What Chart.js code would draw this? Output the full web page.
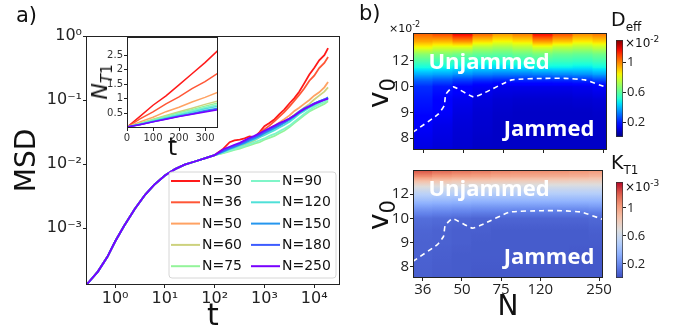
<!DOCTYPE html>
<html><head><meta charset="utf-8">
<script src="https://cdn.jsdelivr.net/npm/chart.js@4.4.1/dist/chart.umd.min.js"></script>
<style>
html,body{margin:0;padding:0;background:#fff;}
#fig{position:relative;width:678px;height:335px;overflow:hidden;background:#fff;}
#fig canvas{position:absolute;}
.t{position:absolute;white-space:nowrap;line-height:1;color:#111;font-family:'DejaVu Sans';}
.rot{transform:translate(-50%,-50%) rotate(-90deg);}
.zone{font-family:'Open Sans';font-weight:700;font-size:22px;color:#fff;transform:translateX(-50%);}
sub,sup{line-height:0;}
</style></head><body>
<div id="fig">
<canvas id="cMain" width="345" height="335" style="left:0;top:0"></canvas>
<canvas id="cInset" width="140" height="133" style="left:88px;top:30px"></canvas>
<canvas id="cHeatTop" width="267" height="160" style="left:345px;top:0"></canvas>
<canvas id="cHeatBot" width="267" height="175" style="left:345px;top:160px"></canvas>
<canvas id="cBarTop" width="68" height="160" style="left:610px;top:0"></canvas>
<canvas id="cBarBot" width="68" height="175" style="left:610px;top:160px"></canvas>

<div class="t" style="left:16px;top:5px;font-size:21px">a)</div>
<div class="t" style="left:359px;top:3px;font-size:21px">b)</div>
<div class="t rot" style="left:100px;top:82px;font-size:22px"><i>N</i><sub style="font-size:15px"><i>T</i>1</sub></div>
<div class="t" style="left:389px;top:23px;font-size:11px">×10<sup style="font-size:8px">-2</sup></div>
<div class="t rot" style="left:379px;top:93px;font-size:28px">v<sub style="font-size:21px">0</sub></div>
<div class="t rot" style="left:379px;top:215px;font-size:28px">v<sub style="font-size:21px">0</sub></div>
<div class="t zone" style="left:489px;top:49px">Unjammed</div>
<div class="t zone" style="left:549px;top:116px">Jammed</div>
<div class="t zone" style="left:489px;top:176px">Unjammed</div>
<div class="t zone" style="left:549px;top:244px">Jammed</div>
<div class="t" style="left:611px;top:10px;font-size:19px">D<sub style="font-size:12px">eff</sub></div>
<div class="t" style="left:625px;top:37px;font-size:12px">×10<sup style="font-size:9px">-2</sup></div>
<div class="t" style="left:611px;top:153px;font-size:19px">K<sub style="font-size:12px">T1</sub></div>
<div class="t" style="left:625px;top:181px;font-size:12px">×10<sup style="font-size:9px">-3</sup></div>
</div>
<script>
// ---------------- data ----------------
const seriesN = [30, 36, 50, 60, 75, 90, 120, 150, 180, 250];

// MSD vs t (shared short-time part)
const tEarly   = [0.26, 0.3, 0.45, 0.7, 1, 1.5, 2.5, 4, 6, 10, 16, 25, 40, 63, 100];
const msdEarly = [1.29e-4, 1.45e-4, 2.09e-4, 3.55e-4, 6.17e-4, 1.07e-3, 2.0e-3, 3.31e-3, 4.68e-3, 6.61e-3, 8.32e-3, 9.77e-3, 0.01096, 0.0123, 0.0138];
// long-time part, one array per N
const tLate = [150, 200, 250, 320, 400, 500, 630, 800, 1000, 1260, 1600, 2000, 2500, 3200, 4000, 5000, 6300, 8000, 10000, 12600, 16000, 19000];
const msdN30  = [0.0174, 0.0219, 0.0234, 0.0240, 0.0251, 0.0269, 0.0263, 0.0316, 0.0389, 0.0437, 0.0501, 0.0603, 0.0708, 0.0891, 0.107, 0.135, 0.182, 0.251, 0.316, 0.417, 0.501, 0.646];
const msdN36  = [0.0158, 0.0174, 0.0191, 0.0200, 0.0219, 0.0240, 0.0263, 0.0302, 0.0347, 0.0398, 0.0468, 0.0550, 0.0646, 0.0794, 0.0977, 0.120, 0.151, 0.200, 0.240, 0.316, 0.380, 0.468];
const msdN50  = [0.0155, 0.0170, 0.0182, 0.0195, 0.0209, 0.0229, 0.0251, 0.0282, 0.0324, 0.0363, 0.0398, 0.0447, 0.0501, 0.0575, 0.0676, 0.0759, 0.0871, 0.100, 0.117, 0.132, 0.158, 0.191];
const msdN60  = [0.0151, 0.0166, 0.0178, 0.0186, 0.0200, 0.0214, 0.0234, 0.0263, 0.0295, 0.0324, 0.0363, 0.0407, 0.0457, 0.0513, 0.0589, 0.0661, 0.0759, 0.0871, 0.102, 0.117, 0.135, 0.158];
const msdN75  = [0.0148, 0.0158, 0.0166, 0.0174, 0.0186, 0.0195, 0.0209, 0.0219, 0.0240, 0.0257, 0.0275, 0.0302, 0.0331, 0.0380, 0.0437, 0.0501, 0.0575, 0.0661, 0.0724, 0.0794, 0.0871, 0.0955];
const msdN90  = [0.0151, 0.0162, 0.0170, 0.0182, 0.0191, 0.0204, 0.0219, 0.0234, 0.0251, 0.0275, 0.0295, 0.0324, 0.0355, 0.0398, 0.0457, 0.0525, 0.0603, 0.0692, 0.0776, 0.0851, 0.0933, 0.102];
const msdN120 = [0.0155, 0.0170, 0.0182, 0.0195, 0.0209, 0.0224, 0.0240, 0.0263, 0.0282, 0.0309, 0.0339, 0.0372, 0.0407, 0.0457, 0.0525, 0.0603, 0.0676, 0.0759, 0.0832, 0.0912, 0.100, 0.107];
const msdN150 = [0.0158, 0.0174, 0.0186, 0.0200, 0.0214, 0.0234, 0.0251, 0.0275, 0.0302, 0.0331, 0.0363, 0.0398, 0.0437, 0.0490, 0.0550, 0.0631, 0.0708, 0.0794, 0.0871, 0.0955, 0.102, 0.110];
const msdN180 = [0.0162, 0.0178, 0.0191, 0.0204, 0.0224, 0.0245, 0.0263, 0.0288, 0.0316, 0.0347, 0.0380, 0.0417, 0.0457, 0.0513, 0.0575, 0.0661, 0.0741, 0.0813, 0.0891, 0.0955, 0.102, 0.107];
const msdN250 = [0.0170, 0.0186, 0.0200, 0.0214, 0.0234, 0.0257, 0.0275, 0.0302, 0.0331, 0.0363, 0.0398, 0.0437, 0.0468, 0.0513, 0.0575, 0.0646, 0.0724, 0.0794, 0.0871, 0.0933, 0.100, 0.105];
const msdLate = [msdN30, msdN36, msdN50, msdN60, msdN75, msdN90, msdN120, msdN150, msdN180, msdN250];
const tTicks = [1, 10, 100, 1000, 10000];
const msdTicks = [0.001, 0.01, 0.1, 1];

// inset: N_T1 vs t
const insetT = [0, 50, 100, 150, 200, 250, 300, 350];
const nT1N30  = [0.03, 0.40, 0.78, 1.10, 1.48, 1.86, 2.24, 2.66];
const nT1N36  = [0.03, 0.31, 0.55, 0.83, 1.07, 1.35, 1.59, 1.88];
const nT1N50  = [0.03, 0.21, 0.37, 0.56, 0.71, 0.89, 1.05, 1.23];
const nT1N60  = [0.03, 0.16, 0.30, 0.43, 0.56, 0.68, 0.81, 0.93];
const nT1N75  = [0.03, 0.15, 0.28, 0.40, 0.52, 0.63, 0.75, 0.86];
const nT1N90  = [0.03, 0.14, 0.26, 0.37, 0.48, 0.59, 0.70, 0.80];
const nT1N120 = [0.03, 0.13, 0.24, 0.35, 0.45, 0.55, 0.66, 0.75];
const nT1N150 = [0.03, 0.12, 0.22, 0.32, 0.41, 0.50, 0.60, 0.68];
const nT1N180 = [0.03, 0.12, 0.21, 0.31, 0.40, 0.48, 0.57, 0.65];
const nT1N250 = [0.03, 0.11, 0.21, 0.30, 0.39, 0.47, 0.55, 0.63];
const nT1 = [nT1N30, nT1N36, nT1N50, nT1N60, nT1N75, nT1N90, nT1N120, nT1N150, nT1N180, nT1N250];
const insetTTicks = [0, 100, 200, 300];
const insetYTicks = [0.5, 1, 1.5, 2, 2.5];

// heat maps: columns on the N index axis, node rows on the v0 index axis
const nTicks = [36, 50, 75, 120, 250];
const nTickPos = [0, 1, 2, 3, 4.5];
const vTicks = [8, 9, 10, 12];
const vTickPos = [0, 1, 2, 3];
const gridN = [0, 0.5, 1, 1.5, 2, 2.5, 3, 3.5, 4, 4.5];
const rowNodes = [-0.46, 0.5, 1, 1.5, 2, 2.25, 2.5, 2.75, 3, 3.25, 3.5, 3.75, 4, 4.1];
// D_eff (x1e-2) at the row nodes, bottom -> top
const deffGrid = [
  [0.11,0.10,0.09,0.08,0.08,0.08,0.08,0.08,0.08,0.08],
  [0.14,0.12,0.10,0.09,0.08,0.08,0.08,0.08,0.08,0.08],
  [0.17,0.14,0.11,0.095,0.085,0.08,0.08,0.08,0.08,0.085],
  [0.19,0.16,0.125,0.105,0.095,0.09,0.09,0.09,0.095,0.10],
  [0.22,0.19,0.16,0.135,0.12,0.12,0.12,0.12,0.125,0.14],
  [0.29,0.27,0.24,0.22,0.21,0.21,0.21,0.215,0.225,0.25],
  [0.39,0.38,0.36,0.34,0.33,0.33,0.34,0.35,0.36,0.38],
  [0.49,0.48,0.46,0.44,0.44,0.45,0.47,0.47,0.46,0.48],
  [0.58,0.56,0.54,0.52,0.52,0.54,0.56,0.55,0.54,0.56],
  [0.67,0.65,0.63,0.61,0.60,0.62,0.64,0.62,0.61,0.63],
  [0.82,0.78,0.78,0.72,0.70,0.73,0.78,0.74,0.72,0.75],
  [0.95,0.93,0.98,0.88,0.84,0.87,0.97,0.91,0.86,0.89],
  [1.03,1.06,1.15,1.02,0.95,0.99,1.14,1.05,0.97,1.00],
  [1.07,1.12,1.22,1.08,1.00,1.04,1.21,1.11,1.02,1.05]
];
// K_T1 (x1e-3) at the row nodes, bottom -> top
const kGrid = [
  [0.06,0.05,0.05,0.04,0.04,0.04,0.04,0.04,0.04,0.04],
  [0.07,0.06,0.05,0.05,0.05,0.05,0.05,0.05,0.04,0.04],
  [0.07,0.07,0.06,0.05,0.05,0.05,0.05,0.05,0.05,0.05],
  [0.08,0.07,0.06,0.06,0.05,0.05,0.05,0.05,0.05,0.06],
  [0.11,0.10,0.09,0.08,0.08,0.08,0.08,0.08,0.08,0.09],
  [0.19,0.18,0.17,0.16,0.16,0.15,0.15,0.15,0.15,0.16],
  [0.29,0.28,0.27,0.26,0.26,0.26,0.26,0.26,0.26,0.27],
  [0.41,0.40,0.39,0.38,0.38,0.38,0.38,0.38,0.38,0.38],
  [0.52,0.51,0.50,0.50,0.49,0.49,0.49,0.49,0.49,0.49],
  [0.65,0.63,0.62,0.62,0.61,0.61,0.61,0.60,0.60,0.60],
  [0.83,0.81,0.79,0.79,0.78,0.77,0.76,0.76,0.75,0.75],
  [1.07,1.03,1.01,1.00,0.98,0.97,0.96,0.95,0.94,0.92],
  [1.25,1.20,1.17,1.15,1.12,1.10,1.09,1.08,1.06,1.04],
  [1.28,1.23,1.20,1.18,1.15,1.13,1.12,1.11,1.09,1.07]
];
const deffMax = 1.3;
const kMax = 1.37;
const cbarTicks = [0.2, 0.6, 1];
// jamming boundary (dashed)
const edgeN = [-0.25, 0.38, 0.53, 0.57, 0.76, 1.26, 1.55, 2.22, 3.05, 3.55, 4.05, 4.6];
const edgeV = [0.23, 0.93, 1.26, 1.70, 1.99, 1.60, 1.77, 2.26, 2.32, 2.32, 2.26, 1.96];

// ---------------- styles ----------------
const seriesColor = ['#ff1a1a','#ff5636','#ffa263','#cdd27e','#93f49a','#7ff5c8','#4fe0d8','#2596ee','#3d5cff','#7800ff'];

Chart.defaults.font.family = "'DejaVu Sans'";
Chart.defaults.animation = false;
Chart.defaults.color = '#222';

function interp(pts, t) {
  if (t <= pts[0][0]) return pts[0][1];
  for (let i = 1; i < pts.length; i++) {
    if (t <= pts[i][0]) { const [x0,y0] = pts[i-1], [x1,y1] = pts[i]; return y0 + (y1-y0)*(t-x0)/(x1-x0); }
  }
  return pts[pts.length-1][1];
}
const jetR = [[0,0],[0.35,0],[0.66,1],[0.89,1],[1,0.5]];
const jetG = [[0,0],[0.125,0],[0.375,1],[0.64,1],[0.91,0],[1,0]];
const jetB = [[0,0.5],[0.11,1],[0.34,1],[0.65,0],[1,0]];
function jet(t) {
  t = Math.max(0, Math.min(1, t));
  return `rgb(${Math.round(255*interp(jetR,t))},${Math.round(255*interp(jetG,t))},${Math.round(255*interp(jetB,t))})`;
}
const cwStops = [[0,[59,76,192]],[0.125,[98,130,234]],[0.25,[141,176,254]],[0.375,[184,208,249]],[0.5,[221,221,221]],[0.625,[245,196,173]],[0.75,[244,154,123]],[0.875,[222,96,77]],[1,[180,4,38]]];
function coolwarm(t) {
  t = Math.max(0, Math.min(1, t));
  const c = [0,1,2].map(k => Math.round(interp(cwStops.map(s => [s[0], s[1][k]]), t)));
  return `rgb(${c[0]},${c[1]},${c[2]})`;
}

function framePlugin(color) {
  return { id: 'frame', afterDatasetsDraw(chart) {
    const a = chart.chartArea, ctx = chart.ctx;
    ctx.save(); ctx.strokeStyle = color; ctx.lineWidth = 1;
    ctx.strokeRect(Math.round(a.left) + 0.5, Math.round(a.top) + 0.5, Math.round(a.right - a.left) - 1, Math.round(a.bottom - a.top) - 1);
    ctx.restore();
  }};
}
const whiteArea = { id: 'whiteArea', beforeDraw(chart) {
  const a = chart.chartArea, ctx = chart.ctx;
  ctx.save(); ctx.fillStyle = '#fff'; ctx.fillRect(a.left, a.top, a.right - a.left, a.bottom - a.top); ctx.restore();
}};
const boxLegend = { id: 'boxLegend', afterDraw(chart) {
  const a = chart.chartArea, ctx = chart.ctx, ds = chart.data.datasets;
  const w = 167, h = 106, x0 = a.right - 4 - w, y0 = a.bottom - 7 - h, r = 3;
  ctx.save();
  ctx.beginPath();
  ctx.moveTo(x0 + r, y0); ctx.lineTo(x0 + w - r, y0); ctx.quadraticCurveTo(x0 + w, y0, x0 + w, y0 + r);
  ctx.lineTo(x0 + w, y0 + h - r); ctx.quadraticCurveTo(x0 + w, y0 + h, x0 + w - r, y0 + h);
  ctx.lineTo(x0 + r, y0 + h); ctx.quadraticCurveTo(x0, y0 + h, x0, y0 + h - r);
  ctx.lineTo(x0, y0 + r); ctx.quadraticCurveTo(x0, y0, x0 + r, y0); ctx.closePath();
  ctx.fillStyle = 'rgba(255,255,255,0.85)'; ctx.fill();
  ctx.strokeStyle = '#d6d6d6'; ctx.lineWidth = 1; ctx.stroke();
  ctx.font = "14px 'DejaVu Sans'"; ctx.textBaseline = 'middle'; ctx.fillStyle = '#111';
  ds.forEach((d, i) => {
    const col = Math.floor(i / 5), row = i % 5;
    const lx = x0 + 2 + col * 80, ly = y0 + 9 + row * 21.3;
    ctx.strokeStyle = d.borderColor; ctx.lineWidth = 2;
    ctx.beginPath(); ctx.moveTo(lx, ly); ctx.lineTo(lx + 29, ly); ctx.stroke();
    ctx.fillText(d.label, lx + 31, ly + 0.5);
  });
  ctx.restore();
}};

const supMap = {'-':'\u207B','0':'\u2070','1':'\u00B9','2':'\u00B2','3':'\u00B3','4':'\u2074'};
function powLabel(v) { const e = String(Math.round(Math.log10(v))); return '10' + e.split('').map(c => supMap[c]).join(''); }

// ---------------- main MSD chart ----------------
new Chart(document.getElementById('cMain'), {
  type: 'line',
  data: { datasets: seriesN.map((n, i) => ({
    label: 'N=' + n,
    data: tEarly.map((t, k) => ({x: t, y: msdEarly[k]})).concat(tLate.map((t, k) => ({x: t, y: msdLate[i][k]}))),
    borderColor: seriesColor[i], borderWidth: 1.8, pointRadius: 0, tension: 0, order: seriesN.length - i
  }))},
  options: {
    responsive: false, animation: false,
    layout: { padding: { top: 36, right: 5, left: 0, bottom: 0 } },
    plugins: { legend: { display: false }, tooltip: { enabled: false } },
    scales: {
      x: { type: 'logarithmic', min: 0.26, max: 33000,
        afterBuildTicks: s => { s.ticks = tTicks.map(v => ({value: v})); },
        afterFit: s => { s.height = 50; },
        grid: { drawOnChartArea: false, tickLength: 3, color: '#222' },
        border: { display: false },
        ticks: { font: { size: 16 }, color: '#222', padding: 1, maxRotation: 0, autoSkip: false, callback: v => powLabel(v) },
        title: { display: true, text: 't', font: { size: 30 }, color: '#111', padding: { top: 0, bottom: 0 } } },
      y: { type: 'logarithmic', min: 1.29e-4, max: 1,
        afterBuildTicks: s => { s.ticks = msdTicks.map(v => ({value: v})); },
        afterFit: s => { s.width = 86; },
        grid: { drawOnChartArea: false, tickLength: 3, color: '#222' },
        border: { display: false },
        ticks: { font: { size: 16 }, color: '#222', padding: 1, autoSkip: false, callback: v => powLabel(v) },
        title: { display: true, text: 'MSD', font: { size: 28 }, color: '#111', padding: { top: 11, bottom: 0 } } }
    }
  },
  plugins: [framePlugin('#222'), boxLegend]
});

// ---------------- inset ----------------
new Chart(document.getElementById('cInset'), {
  type: 'line',
  data: { datasets: seriesN.map((n, i) => ({
    label: 'N=' + n,
    data: insetT.map((t, k) => ({x: t, y: nT1[i][k]})),
    borderColor: seriesColor[i], borderWidth: 1.5, pointRadius: 0, tension: 0, order: seriesN.length - i
  }))},
  options: {
    responsive: false, animation: false,
    layout: { padding: { top: 7, right: 10, left: 0, bottom: 0 } },
    plugins: { legend: { display: false }, tooltip: { enabled: false } },
    scales: {
      x: { type: 'linear', min: 0, max: 350,
        afterBuildTicks: s => { s.ticks = insetTTicks.map(v => ({value: v})); },
        afterFit: s => { s.height = 35; },
        grid: { drawOnChartArea: false, tickLength: 3, color: '#222' },
        border: { display: false },
        ticks: { font: { size: 10 }, color: '#333', padding: 1, maxRotation: 0, autoSkip: false, callback: v => String(v) },
        title: { display: true, text: 't', font: { size: 24 }, color: '#111', padding: { top: 0, bottom: 0 } } },
      y: { type: 'linear', min: 0, max: 3.12,
        afterBuildTicks: s => { s.ticks = insetYTicks.map(v => ({value: v})); },
        afterFit: s => { s.width = 39; },
        grid: { drawOnChartArea: false, tickLength: 3, color: '#222' },
        border: { display: false },
        ticks: { font: { size: 10 }, color: '#333', padding: 1, autoSkip: false, callback: v => String(v) } }
    }
  },
  plugins: [whiteArea, framePlugin('#222')]
});

// ---------------- heat maps ----------------
function heatCells(grid) {
  const pts = [];
  for (let r = 0; r < grid.length - 1; r++) {
    grid[r].forEach((v, c) => pts.push({ x: gridN[c], y: [rowNodes[r], rowNodes[r + 1]], v0: v, v1: grid[r + 1][c] }));
  }
  return pts;
}
function cellFill(cmap, vmax) {
  return c => {
    if (!c.raw) return '#000';
    const ys = c.chart.scales.y;
    if (!ys) return cmap(c.raw.v0 / vmax);
    const p0 = ys.getPixelForValue(c.raw.y[0]), p1 = ys.getPixelForValue(c.raw.y[1]);
    if (!isFinite(p0) || !isFinite(p1) || p0 === p1) return cmap(c.raw.v0 / vmax);
    const g = c.chart.ctx.createLinearGradient(0, p0, 0, p1);
    for (let s = 0; s <= 4; s++) g.addColorStop(s / 4, cmap((c.raw.v0 + (c.raw.v1 - c.raw.v0) * s / 4) / vmax));
    return g;
  };
}
function heatMap(id, grid, cmap, vmax, yMax, pad, xAxisH, showN) {
  return new Chart(document.getElementById(id), {
    type: 'bar',
    data: { datasets: [
      { type: 'line', data: edgeN.map((n, k) => ({x: n, y: edgeV[k]})), borderColor: '#fff', borderWidth: 1.6,
        borderDash: [5, 4], pointRadius: 0, tension: 0.15, order: 0 },
      { type: 'bar', data: heatCells(grid), grouped: false, barPercentage: 1, categoryPercentage: 1, borderWidth: 0,
        inflateAmount: 0.5, backgroundColor: cellFill(cmap, vmax), order: 1 }
    ]},
    options: {
      responsive: false, animation: false,
      layout: { padding: { top: pad, right: 5, left: 0, bottom: 0 } },
      plugins: { legend: { display: false }, tooltip: { enabled: false } },
      scales: {
        x: { type: 'linear', min: -0.25, max: 4.6, offset: false,
          afterBuildTicks: s => { s.ticks = nTickPos.map(v => ({value: v})); },
          afterFit: s => { s.height = xAxisH; },
          grid: { drawOnChartArea: false, tickLength: 3, color: '#222', offset: false },
          border: { display: false },
          ticks: { display: showN, font: { family: "'Open Sans'", size: 15 }, color: '#222', padding: 0, maxRotation: 0, autoSkip: false,
            callback: (v, i) => String(nTicks[i]) },
          title: { display: showN, text: 'N', font: { size: 28 }, color: '#111', padding: { top: 0, bottom: 10 } } },
        y: { type: 'linear', min: -0.46, max: yMax,
          afterBuildTicks: s => { s.ticks = vTickPos.map(v => ({value: v})); },
          afterFit: s => { s.width = 68; },
          grid: { drawOnChartArea: false, tickLength: 3, color: '#222' },
          border: { display: false },
          ticks: { font: { family: "'Open Sans'", size: 15 }, color: '#222', padding: 1, autoSkip: false,
            callback: (v, i) => String(vTicks[i]) } }
      }
    },
    plugins: [framePlugin('#222')]
  });
}
heatMap('cHeatTop', deffGrid, jet, deffMax, 4.08, 33, 9, false);
heatMap('cHeatBot', kGrid, coolwarm, kMax, 4.0, 2, 57, true);

// ---------------- colour bars ----------------
function colorBar(id, cmap, vmax, padTop, padBottom) {
  return new Chart(document.getElementById(id), {
    type: 'bar',
    data: { labels: [''], datasets: [{ data: [[0, vmax]], barPercentage: 1, categoryPercentage: 1,
      borderWidth: 1, borderColor: '#333', borderSkipped: false,
      backgroundColor: c => {
        const a = c.chart.chartArea; if (!a) return '#888';
        const g = c.chart.ctx.createLinearGradient(0, a.bottom, 0, a.top);
        for (let s = 0; s <= 20; s++) g.addColorStop(s / 20, cmap(s / 20));
        return g;
      } }] },
    options: {
      responsive: false, animation: false,
      layout: { padding: { top: padTop, bottom: padBottom, left: 6, right: 0 } },
      plugins: { legend: { display: false }, tooltip: { enabled: false } },
      scales: {
        x: { display: false },
        y: { position: 'right', min: 0, max: vmax,
          afterBuildTicks: s => { s.ticks = cbarTicks.map(v => ({value: v})); },
          afterFit: s => { s.width = 55; },
          grid: { drawOnChartArea: false, tickLength: 3, color: '#222' },
          border: { display: false },
          ticks: { font: { family: "'Open Sans'", size: 13 }, color: '#222', padding: 1, autoSkip: false, callback: v => String(v) } }
      }
    }
  });
}
colorBar('cBarTop', jet, deffMax, 40, 23);
colorBar('cBarBot', coolwarm, kMax, 22, 57);
</script>
</body></html>
